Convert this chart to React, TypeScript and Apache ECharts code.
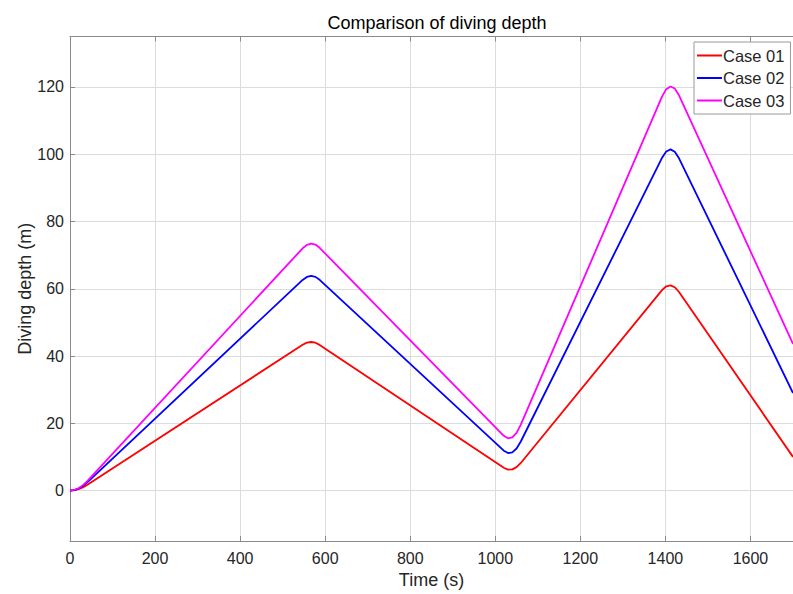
import React, { useEffect, useRef } from "react";
import * as echarts from "echarts";

const times = [0, 10, 20, 30, 40, 547, 557, 567, 577, 587, 1020, 1030, 1040, 1050, 1060, 1392, 1402, 1412, 1422, 1432, 1700];
const case01 = [0, 0.1, 0.41, 0.93, 1.65, 43.35, 43.97, 44.17, 43.95, 43.31, 6.79, 6.24, 6.3, 6.95, 8.2, 59.6, 60.73, 61.01, 60.45, 59.04, 10.0];
const case02 = [0, 0.15, 0.59, 1.34, 2.38, 62.62, 63.52, 63.82, 63.53, 62.65, 11.85, 11.14, 11.36, 12.5, 14.58, 98.92, 100.82, 101.43, 100.75, 98.79, 29.0];
const case03 = [0, 0.17, 0.68, 1.54, 2.73, 72.02, 73.05, 73.42, 73.13, 72.17, 16.28, 15.52, 15.81, 17.17, 19.58, 117.12, 119.35, 120.15, 119.53, 117.49, 43.6];
const seriesNames = ["Case 01", "Case 02", "Case 03"];
const seriesColors = ["#ff0000", "#0000ff", "#ff00ff"];
const xTicks = [0, 200, 400, 600, 800, 1000, 1200, 1400, 1600];
const yTicks = [0, 20, 40, 60, 80, 100, 120];

export default function App() {
  const ref = useRef<HTMLDivElement>(null);
  useEffect(() => {
    const chart = echarts.init(ref.current!, null, { renderer: "svg" });
    const font = "'Liberation Sans', Arial, Helvetica, sans-serif";
    const axisColor = "#8a8a8a";
    const gridColor = "#dcdcdc";
    const txt = "#262626";
    const all = [case01, case02, case03];
    const fmt = (v: number) => String(v);
    chart.setOption({
      animation: false,
      backgroundColor: "#ffffff",
      textStyle: { fontFamily: font },
      title: {
        text: "Comparison of diving depth",
        left: 432,
        textAlign: "center",
        top: 9,
        textStyle: { fontFamily: font, fontSize: 18, fontWeight: "normal", color: "#000" },
      },
      legend: {
        orient: "vertical",
        left: 694,
        top: 42,
        padding: [5, 6, 5, 3],
        icon: "rect",
        itemWidth: 25,
        itemHeight: 2,
        itemGap: 5.5,
        borderColor: "#999",
        borderWidth: 1,
        backgroundColor: "#fff",
        borderRadius: 0,
        textStyle: { fontFamily: font, fontSize: 16.5, color: txt, padding: [0, 0, 0, -4] },
        data: seriesNames,
      },
      grid: { left: 70, top: 36.5, right: -2.5, bottom: 52, containLabel: false },
      xAxis: [
        {
          type: "value",
          min: 0,
          max: 1700,
          name: "Time (s)",
          nameLocation: "middle",
          nameGap: 30,
          nameMoveOverlap: false,
          nameTextStyle: { fontFamily: font, fontSize: 18, color: txt },
          axisLine: { show: true, onZero: false, lineStyle: { color: axisColor, width: 1 } },
          axisTick: { show: true, inside: true, length: 5, customValues: xTicks, lineStyle: { color: axisColor } },
          axisLabel: { customValues: xTicks, formatter: fmt, fontFamily: font, fontSize: 16, color: txt, margin: 9 },
          splitLine: { show: true, lineStyle: { color: gridColor, width: 1 } },
        },
        {
          type: "value",
          position: "top",
          min: 0,
          max: 1700,
          axisLine: { show: true, onZero: false, lineStyle: { color: axisColor, width: 1 } },
          axisTick: { show: true, inside: true, length: 5, customValues: xTicks, lineStyle: { color: axisColor } },
          axisLabel: { show: false },
          splitLine: { show: false },
        },
      ],
      yAxis: {
        type: "value",
        min: -15,
        max: 135,
        name: "Diving depth (m)",
        nameLocation: "middle",
        nameRotate: 90,
        nameGap: 36,
        nameMoveOverlap: false,
        nameTextStyle: { fontFamily: font, fontSize: 18, color: txt },
        axisLine: { show: true, onZero: false, lineStyle: { color: axisColor, width: 1 } },
        axisTick: { show: true, inside: true, length: 5, customValues: yTicks, lineStyle: { color: axisColor } },
        axisLabel: { customValues: yTicks, formatter: fmt, fontFamily: font, fontSize: 16, color: txt, margin: 6 },
        splitLine: { show: true, lineStyle: { color: gridColor, width: 1 } },
      },
      series: all.map((vals, i) => ({
        name: seriesNames[i],
        type: "line",
        xAxisIndex: 0,
        data: times.map((t, j) => [t, vals[j]]),
        symbol: "none",
        smooth: false,
        lineStyle: { color: seriesColors[i], width: 1.8 },
        itemStyle: { color: seriesColors[i] },
      })),
    });
    return () => chart.dispose();
  }, []);
  return (
    <div
      ref={ref}
      style={{ position: "fixed", left: 0, top: 0, width: 793, height: 594, background: "#fff" }}
    />
  );
}
